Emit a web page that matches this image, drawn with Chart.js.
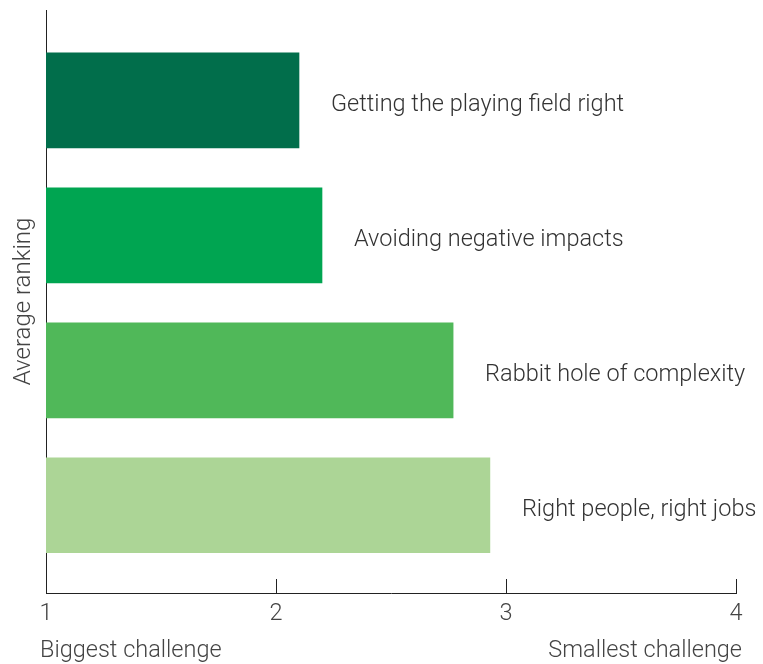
<!DOCTYPE html>
<html>
<head>
<meta charset="utf-8">
<title>Average ranking</title>
<script src="https://cdn.jsdelivr.net/npm/chart.js@4/dist/chart.umd.min.js"></script>
<style>
  html, body { margin: 0; padding: 0; background: #fff; }
  #wrap { width: 763px; height: 664px; }
</style>
</head>
<body>
<div id="wrap"><canvas id="mycanvas"></canvas></div>
<script>
var challenges = [
  "Getting the playing field right",
  "Avoiding negative impacts",
  "Rabbit hole of complexity",
  "Right people, right jobs"
];
var avgRanking = [2.10, 2.20, 2.77, 2.93];
var barColours = ["#016e4b", "#00a551", "#50b859", "#acd596"];
var rankTicks = [1, 2, 3, 4];
var endLabels = ["Biggest challenge", "Smallest challenge"];

var fontFamily = "Roboto, 'Liberation Sans', sans-serif";
var textColour = "#333";

// one point per challenge, bar runs from 1 (the axis start) to the ranking
var points = [];
for (var i in avgRanking) {
  points.push({ x: [1, avgRanking[i]], y: Number(i), label: challenges[i] });
}

var extras = {
  id: "extras",
  afterDraw: function(chart) {
    var ctx = chart.ctx;
    var xs = chart.scales.x;
    var area = chart.chartArea;
    ctx.save();

    // inward tick marks on the bottom axis
    ctx.strokeStyle = "#222";
    ctx.lineWidth = 1;
    rankTicks.forEach(function(t) {
      if (t === rankTicks[0]) return;
      var px = Math.round(xs.getPixelForValue(t)) + 0.5;
      ctx.beginPath();
      ctx.moveTo(px, area.bottom);
      ctx.lineTo(px, area.bottom - 14);
      ctx.stroke();
    });

    // category names beside each bar
    ctx.font = "300 23.5px " + fontFamily;
    ctx.fillStyle = textColour;
    ctx.textBaseline = "middle";
    ctx.textAlign = "left";
    var meta = chart.getDatasetMeta(0);
    meta.data.forEach(function(bar, k) {
      ctx.fillText(challenges[k], bar.x + 32, bar.y + 5);
    });

    // ends of the scale
    var y = area.bottom + 58;
    ctx.fillStyle = "#444";
    ctx.textAlign = "left";
    ctx.fillText(endLabels[0], xs.getPixelForValue(rankTicks[0]) - 6, y);
    ctx.textAlign = "right";
    ctx.fillText(endLabels[1], xs.getPixelForValue(rankTicks[rankTicks.length - 1]) + 6, y);
    ctx.restore();
  }
};

var ctx = document.getElementById("mycanvas");

var BarGraph = new Chart(ctx, {
  type: "bar",
  data: {
    datasets: [{
      data: points,
      backgroundColor: barColours,
      borderWidth: 0,
      barThickness: 95
    }]
  },
  options: {
    indexAxis: "y",
    responsive: true,
    maintainAspectRatio: false,
    animation: false,
    layout: { padding: { top: 10, right: 27, left: 0, bottom: 0 } },
    plugins: {
      legend: { display: false },
      tooltip: { enabled: false }
    },
    scales: {
      x: {
        type: "linear",
        min: 1,
        max: 4,
        afterFit: function(scale) { scale.height = 71; },
        afterBuildTicks: function(scale) {
          scale.ticks = rankTicks.map(function(v) { return { value: v }; });
        },
        grid: { display: false, drawTicks: false },
        border: { display: true, color: "#222", width: 1 },
        ticks: {
          padding: 7,
          color: "#444",
          font: { family: fontFamily, size: 23.5, weight: "300" }
        }
      },
      y: {
        type: "linear",
        reverse: true,
        offset: false,
        min: -0.67,
        max: 3.65,
        afterFit: function(scale) { scale.width = 46; },
        grid: { display: false, drawTicks: false, offset: false },
        border: { display: true, color: "#222", width: 1 },
        ticks: { display: false },
        title: {
          display: true,
          text: "Average ranking",
          color: "#444",
          padding: { top: 10, bottom: 0 },
          font: { family: fontFamily, size: 24, weight: "300" }
        }
      }
    }
  },
  plugins: [extras]
});
</script>
</body>
</html>
